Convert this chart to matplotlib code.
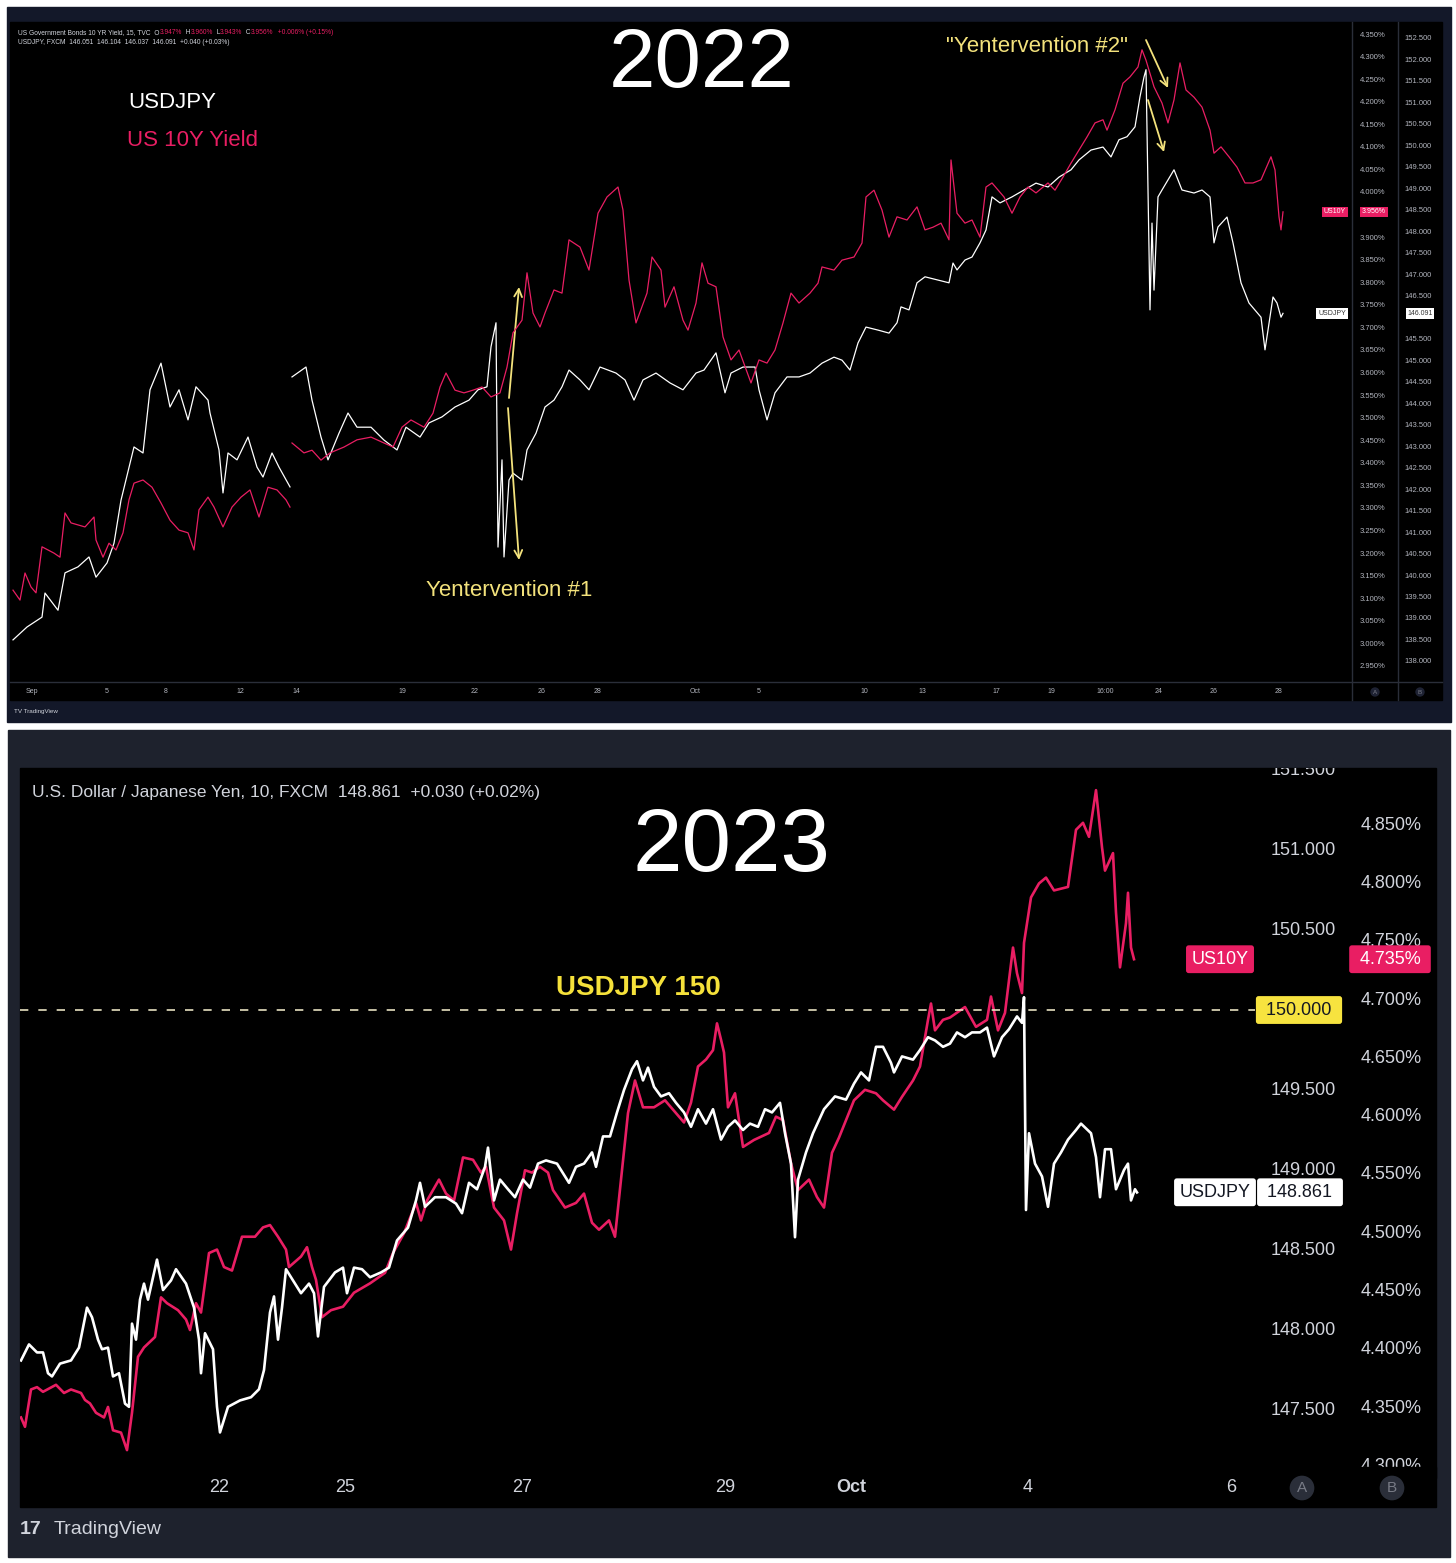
import numpy as np
import matplotlib.pyplot as plt
from matplotlib.patches import Rectangle
from matplotlib.lines import Line2D

plt.rcParams['font.family'] = ['Liberation Sans', 'DejaVu Sans']

W, H = 1456, 1563
PINK = '#e91e63'
YEL = '#f3e27c'
GREY = '#b2b5be'
LIGHT = '#d1d4dc'

# ---- 2022 chart (15 min bars, x = bar position) ----
top_jpy = [(13, 138.49), (27, 138.79), (42, 139.02), (45, 139.58), (58, 139.18), (65, 140.05), (78, 140.19),
           (89, 140.42), (96, 139.95), (107, 140.28), (114, 140.74), (121, 141.74), (134, 142.98), (143, 142.84),
           (150, 144.31), (161, 144.93), (170, 143.91), (179, 144.31), (188, 143.61), (196, 144.38), (208, 144.07),
           (210, 143.77), (219, 142.91), (223, 141.91), (228, 142.84), (237, 142.68), (248, 143.21), (257, 142.51),
           (263, 142.28), (272, 142.84), (279, 142.51), (290, 142.05), (291, np.nan), (292, 144.61), (306, 144.84),
           (312, 144.07), (321, 143.21), (328, 142.68), (339, 143.30), (348, 143.77), (357, 143.44), (371, 143.44),
           (384, 143.14), (397, 142.91), (406, 143.44), (420, 143.21), (429, 143.54), (442, 143.68), (455, 143.91),
           (469, 144.07), (478, 144.31), (487, 144.38), (491, 145.31), (496, 145.87), (498, 140.65), (502, 142.68),
           (504, 140.42), (509, 142.21), (513, 142.37), (522, 142.21), (527, 142.91), (536, 143.30), (545, 143.91),
           (554, 144.07), (562, 144.38), (569, 144.77), (580, 144.54), (589, 144.31), (600, 144.84), (616, 144.70),
           (625, 144.54), (634, 144.07), (643, 144.54), (656, 144.70), (670, 144.47), (683, 144.31), (696, 144.70),
           (704, 144.77), (716, 145.17), (725, 144.24), (731, 144.70), (743, 144.84), (755, 144.84), (759, 144.31),
           (767, 143.61), (775, 144.24), (787, 144.61), (799, 144.61), (810, 144.70), (822, 144.93), (834, 145.07),
           (842, 145.00), (850, 144.77), (858, 145.40), (866, 145.77), (878, 145.70), (889, 145.63), (897, 145.87),
           (901, 146.24), (909, 146.17), (917, 146.80), (925, 146.94), (937, 146.87), (949, 146.80), (953, 147.26),
           (957, 147.10), (965, 147.33), (972, 147.40), (980, 147.73), (986, 148.03), (992, 148.80), (1000, 148.66),
           (1012, 148.80), (1024, 148.96), (1036, 149.12), (1048, 149.03), (1059, 149.26), (1071, 149.43),
           (1079, 149.66), (1091, 149.89), (1103, 149.96), (1111, 149.73), (1119, 150.13), (1127, 150.20),
           (1135, 150.43), (1140, 151.13), (1144, 151.59), (1146, 151.76), (1150, 146.17), (1152, 148.19),
           (1154, 146.63), (1158, 148.80), (1162, 148.96), (1174, 149.43), (1182, 148.96), (1194, 148.89),
           (1202, 148.96), (1210, 148.80), (1214, 147.73), (1218, 148.10), (1227, 148.33), (1233, 147.73),
           (1237, 147.26), (1241, 146.80), (1249, 146.33), (1261, 146.00), (1265, 145.24), (1273, 146.47),
           (1277, 146.33), (1281, 146.00), (1283, 146.09)]

top_yld = [(13, 3.118), (20, 3.096), (25, 3.156), (31, 3.125), (36, 3.112), (42, 3.214), (54, 3.200), (60, 3.191),
           (65, 3.289), (71, 3.267), (85, 3.258), (94, 3.280), (96, 3.229), (103, 3.191), (109, 3.222), (116, 3.207),
           (123, 3.245), (129, 3.318), (134, 3.355), (143, 3.362), (152, 3.346), (161, 3.311), (170, 3.273),
           (179, 3.251), (188, 3.245), (194, 3.207), (199, 3.296), (208, 3.324), (214, 3.302), (223, 3.258),
           (232, 3.302), (241, 3.324), (250, 3.340), (259, 3.280), (268, 3.346), (277, 3.340), (286, 3.318),
           (290, 3.302), (291, np.nan), (292, 3.444), (304, 3.422), (312, 3.428), (321, 3.406), (330, 3.422),
           (344, 3.435), (357, 3.451), (371, 3.457), (384, 3.444), (393, 3.435), (402, 3.479), (411, 3.495),
           (424, 3.479), (433, 3.510), (440, 3.568), (446, 3.599), (455, 3.561), (464, 3.555), (473, 3.561),
           (482, 3.568), (491, 3.546), (500, 3.555), (507, 3.612), (513, 3.688), (522, 3.716), (527, 3.821),
           (533, 3.732), (540, 3.701), (545, 3.732), (554, 3.783), (562, 3.776), (569, 3.894), (580, 3.878),
           (589, 3.827), (598, 3.953), (607, 3.989), (618, 4.011), (623, 3.960), (629, 3.805), (636, 3.710),
           (647, 3.776), (652, 3.856), (661, 3.827), (665, 3.745), (674, 3.790), (683, 3.716), (688, 3.694),
           (696, 3.754), (702, 3.843), (708, 3.798), (716, 3.790), (723, 3.679), (731, 3.628), (739, 3.650),
           (751, 3.577), (759, 3.628), (767, 3.621), (775, 3.650), (783, 3.710), (791, 3.776), (799, 3.754),
           (810, 3.776), (818, 3.798), (822, 3.834), (834, 3.827), (842, 3.849), (854, 3.856), (862, 3.887),
           (866, 3.989), (874, 4.004), (882, 3.960), (889, 3.900), (897, 3.945), (907, 3.938), (917, 3.967),
           (925, 3.916), (933, 3.922), (941, 3.931), (949, 3.894), (951, 4.071), (957, 3.953), (965, 3.931),
           (972, 3.938), (980, 3.900), (986, 4.011), (992, 4.020), (1004, 3.989), (1012, 3.953), (1020, 3.989),
           (1028, 4.011), (1036, 3.998), (1048, 4.020), (1055, 4.004), (1063, 4.033), (1071, 4.064), (1079, 4.093),
           (1087, 4.122), (1095, 4.153), (1103, 4.160), (1107, 4.137), (1115, 4.182), (1123, 4.241), (1130, 4.255),
           (1138, 4.277), (1142, 4.315), (1146, 4.292), (1154, 4.233), (1162, 4.197), (1168, 4.153), (1174, 4.204),
           (1180, 4.286), (1186, 4.226), (1194, 4.210), (1202, 4.188), (1210, 4.137), (1214, 4.086), (1221, 4.100),
           (1229, 4.078), (1237, 4.055), (1245, 4.020), (1253, 4.020), (1261, 4.027), (1271, 4.078), (1275, 4.049),
           (1279, 3.945), (1281, 3.916), (1283, 3.956)]

top_tick_pos = [32, 107, 166, 240, 296, 402, 475, 542, 598, 695, 759, 864, 922, 996, 1051, 1105, 1159, 1214, 1279]
top_tick_lab = ['Sep', '5', '8', '12', '14', '19', '22', '26', '28', 'Oct', '5', '10', '13', '17', '19', '16:00',
                '24', '26', '28']
top_jpy_ticks = [x for x in np.arange(138.0, 152.51, 0.5) if abs(x - 146.0) > 0.1]
top_yld_ticks = [x for x in np.arange(2.95, 4.351, 0.05) if abs(x - 3.95) > 0.01]

# ---- 2023 chart (10 min bars) ----
bot_jpy = [(21, 147.81), (29, 147.91), (37, 147.86), (43, 147.86), (48, 147.73), (52, 147.71), (60, 147.79),
           (71, 147.81), (79, 147.89), (87, 148.14), (92, 148.08), (98, 147.94), (102, 147.88), (108, 147.89),
           (113, 147.71), (119, 147.73), (125, 147.54), (129, 147.52), (132, 148.04), (136, 147.94), (140, 148.19),
           (144, 148.29), (148, 148.19), (157, 148.44), (163, 148.25), (171, 148.31), (176, 148.38), (186, 148.29),
           (194, 148.14), (199, 147.94), (201, 147.73), (205, 147.98), (213, 147.88), (217, 147.52), (220, 147.36),
           (228, 147.52), (240, 147.56), (251, 147.58), (259, 147.63), (264, 147.75), (270, 148.11), (274, 148.21),
           (278, 147.94), (282, 148.14), (286, 148.38), (293, 148.31), (301, 148.23), (309, 148.29), (314, 148.23),
           (318, 147.96), (324, 148.27), (335, 148.36), (343, 148.39), (347, 148.23), (354, 148.39), (362, 148.38),
           (370, 148.33), (381, 148.36), (389, 148.39), (397, 148.56), (408, 148.64), (416, 148.81), (420, 148.92),
           (425, 148.77), (435, 148.83), (446, 148.83), (456, 148.79), (462, 148.73), (469, 148.92), (477, 148.88),
           (485, 149.02), (488, 149.14), (494, 148.81), (500, 148.94), (508, 148.88), (515, 148.83), (523, 148.94),
           (530, 148.89), (538, 149.04), (546, 149.06), (557, 149.04), (569, 148.92), (576, 149.02), (584, 149.04),
           (592, 149.11), (596, 149.02), (603, 149.21), (610, 149.21), (617, 149.36), (624, 149.50), (632, 149.63),
           (637, 149.68), (643, 149.56), (648, 149.64), (654, 149.52), (661, 149.46), (669, 149.48), (676, 149.42),
           (684, 149.36), (691, 149.27), (698, 149.38), (706, 149.29), (713, 149.38), (721, 149.19), (728, 149.27),
           (735, 149.31), (743, 149.25), (750, 149.29), (758, 149.27), (765, 149.38), (772, 149.36), (780, 149.42),
           (785, 149.23), (791, 149.04), (795, 148.58), (798, 148.94), (806, 149.11), (813, 149.23), (824, 149.38),
           (835, 149.46), (846, 149.44), (854, 149.54), (861, 149.61), (869, 149.56), (876, 149.77), (883, 149.77),
           (891, 149.67), (894, 149.61), (902, 149.71), (913, 149.69), (920, 149.75), (928, 149.83), (935, 149.81),
           (943, 149.77), (950, 149.79), (957, 149.86), (965, 149.83), (972, 149.86), (980, 149.86), (987, 149.89),
           (994, 149.71), (1002, 149.83), (1009, 149.88), (1017, 149.96), (1022, 149.92), (1024, 150.08),
           (1026, 148.75), (1029, 149.23), (1035, 149.04), (1042, 148.96), (1048, 148.77), (1054, 149.04),
           (1061, 149.11), (1068, 149.19), (1076, 149.25), (1081, 149.29), (1091, 149.23), (1096, 149.08),
           (1100, 148.83), (1105, 149.13), (1111, 149.13), (1116, 148.88), (1124, 149.00), (1128, 149.04),
           (1131, 148.81), (1135, 148.88), (1137, 148.86)]

bot_yld = [(21, 4.342), (25, 4.334), (31, 4.366), (37, 4.368), (43, 4.364), (56, 4.370), (64, 4.363), (71, 4.366),
           (81, 4.363), (85, 4.357), (90, 4.354), (96, 4.346), (104, 4.342), (108, 4.351), (113, 4.331), (121, 4.329),
           (127, 4.314), (132, 4.346), (138, 4.394), (144, 4.402), (155, 4.411), (161, 4.445), (167, 4.440),
           (178, 4.434), (186, 4.426), (190, 4.417), (196, 4.440), (201, 4.432), (209, 4.483), (217, 4.486),
           (224, 4.471), (232, 4.468), (242, 4.497), (255, 4.497), (263, 4.505), (270, 4.507), (278, 4.497),
           (286, 4.486), (289, 4.471), (301, 4.480), (307, 4.488), (312, 4.471), (316, 4.460), (322, 4.428),
           (331, 4.434), (343, 4.437), (354, 4.449), (370, 4.457), (385, 4.466), (393, 4.483), (404, 4.500),
           (416, 4.526), (421, 4.511), (427, 4.528), (439, 4.546), (446, 4.534), (454, 4.528), (463, 4.565),
           (473, 4.563), (481, 4.552), (486, 4.557), (494, 4.522), (504, 4.511), (511, 4.486), (517, 4.517),
           (525, 4.554), (532, 4.552), (540, 4.557), (548, 4.552), (553, 4.537), (565, 4.522), (576, 4.526),
           (584, 4.534), (592, 4.509), (599, 4.503), (609, 4.511), (615, 4.497), (621, 4.546), (628, 4.603),
           (635, 4.631), (643, 4.608), (654, 4.608), (665, 4.614), (676, 4.603), (684, 4.595), (691, 4.612),
           (698, 4.643), (706, 4.649), (713, 4.657), (717, 4.680), (721, 4.666), (724, 4.655), (728, 4.608),
           (735, 4.620), (743, 4.574), (754, 4.580), (769, 4.586), (776, 4.600), (783, 4.597), (791, 4.560),
           (798, 4.537), (809, 4.546), (817, 4.531), (824, 4.522), (832, 4.569), (839, 4.582), (846, 4.597),
           (854, 4.614), (865, 4.623), (876, 4.620), (883, 4.614), (894, 4.606), (902, 4.617), (913, 4.631),
           (920, 4.643), (928, 4.683), (931, 4.697), (935, 4.674), (943, 4.683), (950, 4.685), (965, 4.694),
           (976, 4.677), (987, 4.683), (991, 4.703), (998, 4.674), (1005, 4.689), (1013, 4.745), (1017, 4.723),
           (1022, 4.706), (1024, 4.749), (1031, 4.788), (1039, 4.800), (1046, 4.805), (1054, 4.794), (1068, 4.797),
           (1076, 4.846), (1083, 4.852), (1089, 4.840), (1096, 4.880), (1102, 4.831), (1105, 4.811), (1113, 4.826),
           (1116, 4.775), (1120, 4.728), (1126, 4.766), (1128, 4.792), (1131, 4.745), (1134, 4.735)]

bot_tick_pos = [219, 345, 522, 725, 851, 1028, 1231]
bot_tick_lab = ['22', '25', '27', '29', 'Oct', '4', '6']
bot_jpy_ticks = [x for x in np.arange(147.5, 151.51, 0.5) if abs(x - 150.0) > 0.1]
bot_yld_ticks = np.arange(4.30, 4.851, 0.05)


def box(x0, y0, x1, y1):
    # pixel rectangle (top-left origin) -> figure fraction
    return [x0 / W, 1 - y1 / H, (x1 - x0) / W, (y1 - y0) / H]


def rect(x0, y0, x1, y1, color, z=0):
    fig.add_artist(Rectangle((x0 / W, 1 - y1 / H), (x1 - x0) / W, (y1 - y0) / H,
                             transform=fig.transFigure, color=color, zorder=z))


def line(xs, ys, color='#2a2e39', lw=1):
    fig.add_artist(Line2D([x / W for x in xs], [1 - y / H for y in ys], color=color, lw=lw,
                          transform=fig.transFigure))


def ftext(x, y, s, **kw):
    return fig.text(x / W, 1 - y / H, s, **kw)


fig = plt.figure(figsize=(W / 100, H / 100), dpi=100, facecolor='white')

# frames
rect(7, 7, 1451, 722, '#131829')
rect(10, 22, 1442, 700, 'black')
rect(8, 730, 1450, 1557, '#1e222d')
rect(20, 768, 1436, 1507, 'black')

# ================= TOP =================
ax1 = fig.add_axes(box(10, 22, 1352, 682))
ax1.set_facecolor('black')
ax1y = ax1.twinx()
for a in (ax1, ax1y):
    for s in a.spines.values():
        s.set_visible(False)

t, v = zip(*top_jpy)
ax1.plot(t, v, color='white', lw=0.9)
t, v = zip(*top_yld)
ax1y.plot(t, v, color=PINK, lw=0.9)

ax1.set_xlim(10, 1352)
ax1.set_ylim(137.51, 152.87)
ax1y.set_ylim(2.9145, 4.3766)

ax1.set_xticks(top_tick_pos, top_tick_lab)
ax1.tick_params(axis='x', length=0, pad=4, labelsize=5, labelcolor=GREY)
ax1.yaxis.tick_right()
ax1.set_yticks(top_jpy_ticks, ['%.3f' % x for x in top_jpy_ticks])
ax1.tick_params(axis='y', length=0, pad=38, labelsize=5.5, labelcolor=GREY)
ax1y.set_yticks(top_yld_ticks, ['%.3f%%' % x for x in top_yld_ticks])
ax1y.tick_params(axis='y', length=0, pad=5.5, labelsize=5.5, labelcolor=GREY)

line([1352, 1352], [22, 700])
line([1398, 1398], [22, 700])
line([10, 1442], [682, 682])

# last value labels
lab = dict(fontsize=5, va='center', ha='center', clip_on=False)
ax1y.text(1335, 3.956, 'US10Y', color='white', bbox=dict(boxstyle='square,pad=0.25', fc=PINK, ec='none'), **lab)
ax1y.text(1374, 3.956, '3.956%', color='white', bbox=dict(boxstyle='square,pad=0.25', fc=PINK, ec='none'), **lab)
ax1.text(1332, 146.091, 'USDJPY', color='#333', bbox=dict(boxstyle='square,pad=0.25', fc='white', ec='none'), **lab)
ax1.text(1420, 146.091, '146.091', color='#333', bbox=dict(boxstyle='square,pad=0.25', fc='white', ec='none'), **lab)

# header lines with coloured values
hdr = [('US Government Bonds 10 YR Yield, 15, TVC  O', LIGHT), ('3.947%', PINK), ('  H', LIGHT), ('3.960%', PINK),
       ('  L', LIGHT), ('3.943%', PINK), ('  C', LIGHT), ('3.956%', PINK), ('  +0.006% (+0.15%)', PINK)]
prev = ftext(18, 33, hdr[0][0], color=hdr[0][1], fontsize=4.8, va='center')
for s, c in hdr[1:]:
    prev = ax1.annotate(s, xy=(1, 0), xycoords=prev, va='bottom', ha='left', color=c, fontsize=4.8,
                        annotation_clip=False)
ftext(18, 43, 'USDJPY, FXCM  146.051  146.104  146.037  146.091  +0.040 (+0.03%)', color=LIGHT,
      fontsize=4.8, va='center')

ftext(702, 65, '2022', color='white', fontsize=60, ha='center', va='center')
ftext(128, 102, 'USDJPY', color='white', fontsize=16, va='center')
ftext(127, 140, 'US 10Y Yield', color=PINK, fontsize=16, va='center')
ftext(509, 590, 'Yentervention #1', color=YEL, fontsize=16, ha='center', va='center')
ftext(1037, 47, '"Yentervention #2"', color=YEL, fontsize=16, ha='center', va='center')

arrow = dict(arrowstyle='->', color=YEL, lw=1.3, mutation_scale=14, shrinkA=0, shrinkB=0)
for (x0, y0), (x1, y1) in [((509, 398), (519, 287)), ((508, 408), (519, 560)),
                           ((1146, 40), (1168, 88)), ((1148, 100), (1164, 152))]:
    ax1.annotate('', xy=(x1, H - y1), xytext=(x0, H - y0), xycoords='figure pixels',
                 textcoords='figure pixels', arrowprops=arrow)

for x, s in [(1375, 'A'), (1420, 'B')]:
    ftext(x, 692, s, color='#787b86', fontsize=4.5, ha='center', va='center',
          bbox=dict(boxstyle='circle,pad=0.35', fc='#1e2233', ec='none'))
ftext(14, 711, 'TV TradingView', color=LIGHT, fontsize=4.5, va='center')

# ================= BOTTOM =================
ax2 = fig.add_axes(box(20, 768, 1436, 1507))
ax2.set_facecolor('black')
ax2j = ax2.twinx()
for a in (ax2, ax2j):
    for s in a.spines.values():
        s.set_visible(False)
    a.set_xticks([])
    a.set_yticks([])

t, v = zip(*bot_yld)
ax2.plot(t, v, color=PINK, lw=1.9)
t, v = zip(*bot_jpy)
ax2j.plot(t, v, color='white', lw=1.9)

ax2.set_xlim(20, 1436)
ax2.set_ylim(4.2652, 4.899)
ax2j.set_ylim(146.894, 151.5125)

for p in bot_jpy_ticks:
    ax2j.text(1336, p, '%.3f' % p, color=LIGHT, fontsize=13, ha='right', va='center', clip_on=True)
for p in bot_yld_ticks:
    ax2.text(1361, p, '%.3f%%' % p, color=LIGHT, fontsize=13, ha='left', va='center', clip_on=True)
# price scale stops above the time scale
rect(1250, 1467, 1436, 1478, 'black', z=1)
for p, s in zip(bot_tick_pos, bot_tick_lab):
    ftext(p, 1488, s, color=LIGHT, fontsize=13, ha='center', va='center',
          fontweight='bold' if s == 'Oct' else 'normal')

ax2j.hlines(150, 20, 1255, colors='#e6e0c0', linestyles=(0, (5, 6)), lw=1.2)

rs = 'round,pad=0.3,rounding_size=0.15'
lab2 = dict(fontsize=13, va='center', ha='center')
ax2.text(1220, 4.735, 'US10Y', color='white', bbox=dict(boxstyle=rs, fc=PINK, ec='none'), **lab2)
ax2.text(1390, 4.735, ' 4.735% ', color='white', bbox=dict(boxstyle=rs, fc=PINK, ec='none'), **lab2)
ax2j.text(1299, 150, ' 150.000 ', color='#131722', bbox=dict(boxstyle=rs, fc='#f7e33f', ec='none'), **lab2)
ax2j.text(1215, 148.861, 'USDJPY', color='#131722', bbox=dict(boxstyle=rs, fc='white', ec='none'), **lab2)
ax2j.text(1300, 148.861, ' 148.861 ', color='#131722', bbox=dict(boxstyle=rs, fc='white', ec='none'), **lab2)

ftext(32, 792, 'U.S. Dollar / Japanese Yen, 10, FXCM  148.861  +0.030 (+0.02%)', color=LIGHT, fontsize=12.5,
      va='center')
ftext(731, 848, '2023', color='white', fontsize=64, ha='center', va='center')
ftext(638, 988, 'USDJPY 150', color='#f5e13a', fontsize=20, fontweight='bold', ha='center', va='center')

for x, s in [(1302, 'A'), (1392, 'B')]:
    ftext(x, 1488, s, color='#787b86', fontsize=11, ha='center', va='center',
          bbox=dict(boxstyle='circle,pad=0.35', fc='#2a2e39', ec='none'))
ftext(20, 1530, '17', color=LIGHT, fontsize=14, fontweight='bold', va='center')
ftext(54, 1530, 'TradingView', color=LIGHT, fontsize=14, va='center')

fig.savefig('out.png', dpi=100, facecolor=fig.get_facecolor())
